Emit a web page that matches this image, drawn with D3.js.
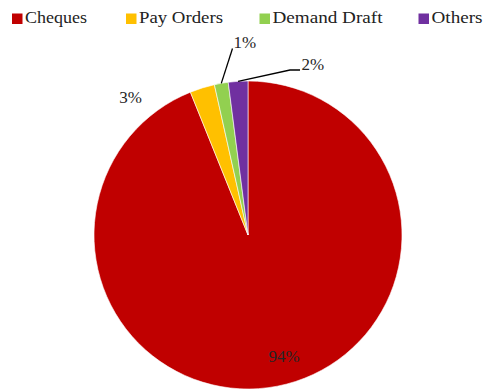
<!DOCTYPE html>
<html>
<head>
<meta charset="utf-8">
<script src="https://cdn.jsdelivr.net/npm/d3@7/dist/d3.min.js"></script>
<style>
  html, body { margin: 0; padding: 0; background: #fff; }
  svg { display: block; }
</style>
</head>
<body>
<svg id="chart" width="489" height="392"></svg>
<script>
// Instrument shares (percent)
const categories = ["Cheques", "Pay Orders", "Demand Draft", "Others"];
const shares = [93.9, 2.6, 1.45, 2.05];
const colors = ["#C00000", "#FFC000", "#92D050", "#7030A0"];

const FONT = "'Liberation Serif', 'Times New Roman', 'DejaVu Serif', serif";
const cx = 248, cy = 235, R = 154;

const svg = d3.select("#chart");

// Legend across the top: swatch offset and text width per entry
const legendX = [12, 126, 259.5, 418.5];
const legendW = [62, 84, 110, 51];
const legend = svg.append("g").selectAll("g")
  .data(categories)
  .join("g")
  .attr("transform", (d, i) => `translate(${legendX[i]},0)`);
legend.append("rect")
  .attr("x", 0).attr("y", 13.5)
  .attr("width", 10.5).attr("height", 10.5)
  .attr("fill", (d, i) => colors[i]);
legend.append("text")
  .attr("x", 13).attr("y", 23)
  .attr("font-family", FONT)
  .attr("font-size", 17)
  .attr("fill", "#222")
  .attr("textLength", (d, i) => legendW[i])
  .attr("lengthAdjust", "spacingAndGlyphs")
  .text(d => d);

// Pie, drawn clockwise from 12 o'clock in category order
const pie = d3.pie().sort(null).value(d => d.v);
const arcs = pie(categories.map((c, i) => ({ c, v: shares[i], i })));
const arc = d3.arc().innerRadius(0).outerRadius(R);

const g = svg.append("g").attr("transform", `translate(${cx},${cy})`);
g.selectAll("path.slice")
  .data(arcs)
  .join("path")
  .attr("class", "slice")
  .attr("d", arc)
  .attr("fill", d => colors[d.data.i])
  .attr("stroke", "#fff")
  .attr("stroke-width", 0.6);

const label = d => Math.round(d.data.v) + "%";
const edge = d => {
  const a = (d.startAngle + d.endAngle) / 2;
  return [Math.sin(a) * R, -Math.cos(a) * R];
};

// Label placements relative to the pie centre; thin slices get a leader line
const labelPos = [
  { x: 36, y: 127, anchor: "middle" },
  { x: -117.5, y: -132.5, anchor: "middle" },
  { x: -14.5, y: -187.5, anchor: "start", leader: [[-15.5, -186.5]] },
  { x: 53.5, y: -165, anchor: "start", leader: [[42, -165], [52, -165]] }
];

arcs.forEach((d, i) => {
  const p = labelPos[i];
  if (!p.leader) return;
  g.append("path")
    .attr("d", d3.line()([edge(d)].concat(p.leader)))
    .attr("fill", "none")
    .attr("stroke", "#000")
    .attr("stroke-width", 1.3);
});

g.selectAll("text.val")
  .data(arcs)
  .join("text")
  .attr("class", "val")
  .attr("x", (d, i) => labelPos[i].x)
  .attr("y", (d, i) => labelPos[i].y)
  .attr("text-anchor", (d, i) => labelPos[i].anchor)
  .attr("font-family", FONT)
  .attr("font-size", 17)
  .attr("fill", "#262626")
  .text(label);
</script>
</body>
</html>
